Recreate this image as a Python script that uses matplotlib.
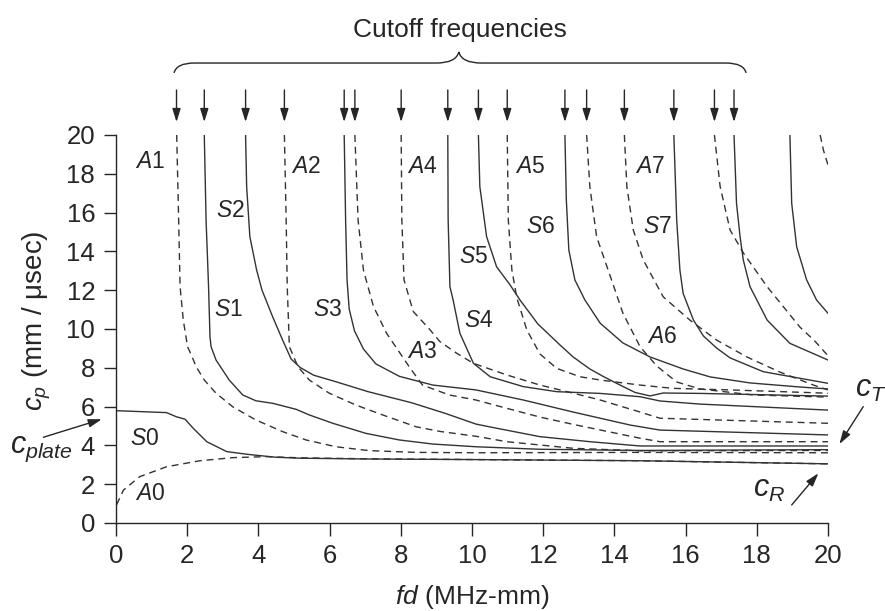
import matplotlib
matplotlib.use('Agg')
import matplotlib.pyplot as plt
from matplotlib.path import Path
from matplotlib.patches import PathPatch

plt.rcParams['font.family'] = ['Liberation Sans', 'DejaVu Sans']
plt.rcParams['mathtext.fontset'] = 'custom'
plt.rcParams['mathtext.rm'] = 'Liberation Sans'
plt.rcParams['mathtext.it'] = 'Liberation Sans:italic'
plt.rcParams['mathtext.bf'] = 'Liberation Sans:bold'

# ---------------- data (fd in MHz-mm, cp in mm/usec) ----------------
cutoff_fd = [1.70, 2.48, 3.64, 4.73, 6.41, 6.71, 8.01, 9.32, 10.18, 10.99,
             12.61, 13.22, 14.28, 15.67, 16.81, 17.36]

# symmetric modes (solid)
s0_fd = [0.0, 1.42, 1.69, 1.94, 2.17, 2.55, 3.11, 3.74, 4.49, 5.17, 7.0, 10.0, 14.7, 20.0]
s0_cp = [5.79, 5.69, 5.48, 5.35, 4.88, 4.19, 3.68, 3.53, 3.39, 3.34, 3.30, 3.27, 3.21, 3.05]

s1_fd = [2.48, 2.53, 2.60, 2.64, 2.67, 2.81, 3.18, 3.56, 3.93, 4.40, 5.06, 5.43, 6.09,
         7.02, 7.96, 8.90, 10.11, 11.91, 14.72, 20.0]
s1_cp = [20.0, 15.62, 12.18, 9.60, 9.09, 8.40, 7.37, 6.60, 6.30, 6.17, 5.86, 5.57, 5.14,
         4.62, 4.28, 4.07, 3.93, 3.80, 3.74, 3.78]

s2_fd = [3.64, 3.67, 3.76, 3.95, 4.10, 4.40, 4.68, 4.92, 5.17, 5.55, 6.18, 7.08, 8.30,
         9.25, 10.11, 10.51, 11.91, 13.32, 14.72, 20.0]
s2_cp = [20.0, 17.34, 14.76, 13.04, 12.01, 10.63, 9.43, 8.45, 8.02, 7.62, 7.28, 6.77, 6.20,
         5.65, 5.10, 4.95, 4.45, 4.19, 3.97, 3.97]

s3_fd = [6.41, 6.45, 6.49, 6.55, 6.70, 6.95, 7.30, 7.96, 8.90, 10.11, 11.44, 12.84, 14.44, 15.28, 20.0]
s3_cp = [20.0, 15.62, 12.53, 11.03, 9.90, 8.97, 8.20, 7.56, 7.11, 6.86, 6.34, 5.72, 5.05, 4.79, 4.54]

s4_fd = [9.32, 9.33, 9.38, 9.47, 9.66, 10.04, 10.51, 11.44, 12.38, 13.60, 14.72, 15.28, 16.40, 20.0]
s4_cp = [20.0, 15.62, 12.18, 11.49, 9.78, 8.23, 7.54, 7.03, 6.77, 6.68, 6.51, 6.29, 6.13, 5.82]

s5_fd = [10.18, 10.22, 10.41, 10.69, 11.07, 11.35, 11.85, 12.47, 12.84, 13.31, 13.71, 14.16,
         14.58, 15.0, 15.37, 16.40, 20.0]
s5_cp = [20.0, 17.34, 14.76, 13.21, 12.27, 11.49, 10.26, 9.18, 8.56, 7.94, 7.53, 7.11,
         6.73, 6.55, 6.70, 6.68, 6.54]

s6_fd = [12.61, 12.65, 12.72, 12.89, 13.17, 13.60, 14.24, 15.0, 15.93, 16.69, 17.81, 19.21, 20.0]
s6_cp = [20.0, 16.65, 14.07, 12.53, 11.50, 10.30, 9.28, 8.56, 7.94, 7.53, 7.22, 7.01, 6.91]

s7_fd = [15.67, 15.75, 15.84, 15.93, 16.22, 16.50, 16.87, 17.25, 18.18, 20.0]
s7_cp = [20.0, 15.62, 13.04, 11.84, 10.46, 9.64, 9.02, 8.51, 7.80, 7.20]

s8_fd = [17.36, 17.43, 17.53, 17.62, 17.81, 18.29, 18.93, 20.0]
s8_cp = [20.0, 16.48, 14.76, 13.56, 12.18, 10.46, 9.26, 8.40]

s9_fd = [18.93, 18.98, 19.12, 19.40, 19.68, 20.0]
s9_cp = [20.0, 16.48, 14.24, 12.53, 11.49, 10.81]

# antisymmetric modes (dashed)
a0_fd = [0.02, 0.21, 0.67, 1.42, 2.36, 3.29, 4.23, 5.17, 7.0, 10.0, 14.7, 20.0]
a0_cp = [0.95, 1.70, 2.39, 2.90, 3.21, 3.37, 3.42, 3.36, 3.31, 3.27, 3.21, 3.05]

a1_fd = [1.705, 1.76, 1.80, 1.89, 2.01, 2.13, 2.25, 2.48, 2.81, 3.28, 3.93, 4.68, 5.34,
         6.18, 7.11, 8.43, 10.11, 14.72, 20.0]
a1_cp = [20.0, 15.62, 12.18, 10.46, 9.09, 8.60, 8.06, 7.37, 6.69, 5.99, 5.31, 4.71, 4.28,
         3.93, 3.73, 3.64, 3.62, 3.64, 3.62]

a2_fd = [4.73, 4.78, 4.81, 4.87, 5.11, 5.43, 5.99, 6.74, 7.49, 8.43, 9.10, 10.11, 10.98,
         12.85, 14.72, 20.0]
a2_cp = [20.0, 15.62, 12.18, 9.09, 8.06, 7.37, 6.69, 6.08, 5.57, 4.96, 4.72, 4.47, 4.19,
         3.85, 3.72, 3.74]

a3_fd = [6.71, 6.80, 6.95, 7.23, 7.60, 7.98, 8.26, 8.61, 9.36, 10.11, 10.98, 11.91, 12.85,
         14.72, 15.28, 20.0]
a3_cp = [20.0, 15.62, 13.04, 11.17, 9.78, 8.75, 7.99, 7.11, 6.60, 6.34, 5.91, 5.46, 5.08,
         4.37, 4.19, 4.19]

a4_fd = [8.01, 8.03, 8.09, 8.35, 8.80, 9.10, 9.57, 10.04, 10.98, 11.91, 12.85, 13.60, 14.72, 15.28, 20.0]
a4_cp = [20.0, 15.62, 12.53, 10.90, 10.00, 9.35, 8.75, 8.23, 7.63, 7.11, 6.69, 6.34, 5.72, 5.40, 5.14]

a5_fd = [10.99, 11.02, 11.12, 11.26, 11.54, 11.91, 12.38, 13.03, 13.60, 14.72, 15.65, 17.25, 20.0]
a5_cp = [20.0, 15.62, 13.04, 11.60, 9.95, 8.71, 7.97, 7.54, 7.37, 7.11, 6.94, 6.86, 6.69]

a6_fd = [13.22, 13.31, 13.50, 13.92, 14.24, 14.72, 15.19, 15.75, 16.40, 17.90, 20.0]
a6_cp = [20.0, 17.34, 14.76, 12.53, 10.81, 9.09, 8.09, 7.27, 6.91, 6.60, 6.49]

a7_fd = [14.28, 14.35, 14.53, 14.81, 15.37, 16.12, 16.87, 17.72, 18.65, 19.59, 20.0]
a7_cp = [20.0, 17.34, 15.10, 13.56, 11.66, 10.46, 9.43, 8.56, 7.78, 7.11, 6.86]

a8_fd = [16.81, 16.97, 17.25, 17.63, 18.29, 19.21, 19.63, 20.0]
a8_cp = [20.0, 17.34, 15.10, 13.90, 12.18, 10.10, 9.38, 8.62]

a9_fd = [19.78, 19.87, 20.0]
a9_cp = [20.0, 19.23, 18.45]

label_text = ['A1', 'S2', 'A2', 'A4', 'A5', 'A7', 'S6', 'S7', 'S5', 'S1', 'S3', 'S4',
              'A3', 'A6', 'S0', 'A0']
label_fd = [0.95, 3.20, 5.34, 8.59, 11.63, 15.00, 11.93, 15.20, 10.04, 3.15, 5.95, 10.18,
            8.59, 15.33, 0.81, 0.96]
label_cp = [18.62, 16.13, 18.40, 18.40, 18.40, 18.40, 15.27, 15.27, 13.73, 10.98, 10.98, 10.46,
            8.83, 9.60, 4.37, 1.53]

xticks = [0, 2, 4, 6, 8, 10, 12, 14, 16, 18, 20]
yticks = [0, 2, 4, 6, 8, 10, 12, 14, 16, 18, 20]

# ---------------- figure ----------------
INK = '#262626'
LINE = '#333333'
fig = plt.figure(figsize=(8.85, 6.11), dpi=100)
ax = fig.add_axes([116 / 885, 88 / 611, 712 / 885, 388 / 611])

sym = [(s0_fd, s0_cp), (s1_fd, s1_cp), (s2_fd, s2_cp), (s3_fd, s3_cp), (s4_fd, s4_cp),
       (s5_fd, s5_cp), (s6_fd, s6_cp), (s7_fd, s7_cp), (s8_fd, s8_cp), (s9_fd, s9_cp)]
anti = [(a0_fd, a0_cp), (a1_fd, a1_cp), (a2_fd, a2_cp), (a3_fd, a3_cp), (a4_fd, a4_cp),
        (a5_fd, a5_cp), (a6_fd, a6_cp), (a7_fd, a7_cp), (a8_fd, a8_cp), (a9_fd, a9_cp)]

for fx, cy in sym:
    ax.plot(fx, cy, color=LINE, lw=1.0, solid_joinstyle='round')
for fx, cy in anti:
    ax.plot(fx, cy, color=LINE, lw=1.0, linestyle=(0, (5, 3.5)))

for t, fx, cy in zip(label_text, label_fd, label_cp):
    ax.text(fx, cy, '$%s$%s' % (t[0], t[1:]), fontsize=16.5, color=INK,
            ha='center', va='center')

ax.set_xlim(0, 20)
ax.set_ylim(0, 20)
ax.set_xticks(xticks)
ax.set_yticks(yticks)
ax.spines['top'].set_visible(False)
ax.spines['right'].set_visible(False)
for sp in ('left', 'bottom'):
    ax.spines[sp].set_linewidth(1.0)
    ax.spines[sp].set_color(INK)
ax.tick_params(axis='both', direction='out', length=9, width=1.0, color=INK,
               labelsize=18.5, labelcolor=INK)
ax.tick_params(axis='y', pad=6)
ax.tick_params(axis='x', pad=6)

# axis labels
ax.text(10.0, -4.15, '$fd$ (MHz-mm)', fontsize=19, color=INK, ha='center',
        va='baseline', clip_on=False)
ax.text(-2.22, 10.41, '$c_p$ (mm / \u03bcsec)', fontsize=20, color=INK, rotation=90,
        ha='center', va='center', clip_on=False)

# cutoff arrows
for fx in cutoff_fd:
    ax.annotate('', xy=(fx, 20.67), xytext=(fx, 22.32), xycoords='data',
                annotation_clip=False,
                arrowprops=dict(arrowstyle='-|>,head_length=0.8,head_width=0.25',
                                color=INK, lw=1.0, shrinkA=0, shrinkB=0))

# brace
verts = [(1.63, 23.2), (1.70, 23.71), (2.2, 23.71), (9.0, 23.71), (9.55, 23.71),
         (9.63, 24.28), (9.71, 23.71), (10.26, 23.71), (17.13, 23.71), (17.63, 23.71),
         (17.70, 23.2)]
codes = [Path.MOVETO, Path.CURVE3, Path.CURVE3, Path.LINETO, Path.CURVE3, Path.CURVE3,
         Path.CURVE3, Path.CURVE3, Path.LINETO, Path.CURVE3, Path.CURVE3]
ax.add_patch(PathPatch(Path(verts, codes), fill=False, edgecolor=INK, lw=1.0,
                       clip_on=False))
ax.text(9.66, 25.05, 'Cutoff frequencies', fontsize=19, color=INK, ha='center',
        va='baseline', clip_on=False)

# velocity annotations
arrow_kw = dict(arrowstyle='-|>,head_length=0.8,head_width=0.25', color=INK, lw=1.0,
                shrinkA=0, shrinkB=0)
ax.text(-2.98, 3.61, '$c_{plate}$', fontsize=22, color=INK, ha='left', va='baseline',
        clip_on=False)
ax.annotate('', xy=(-0.40, 5.35), xytext=(-2.04, 4.42), annotation_clip=False,
            arrowprops=arrow_kw)
ax.text(20.76, 6.49, '$c_T$', fontsize=22, color=INK, ha='left', va='baseline',
        clip_on=False)
ax.annotate('', xy=(20.32, 4.07), xytext=(20.99, 6.0), annotation_clip=False,
            arrowprops=arrow_kw)
ax.text(17.89, 1.34, '$c_R$', fontsize=22, color=INK, ha='left', va='baseline',
        clip_on=False)
ax.annotate('', xy=(19.73, 2.56), xytext=(18.98, 0.93), annotation_clip=False,
            arrowprops=arrow_kw)

fig.savefig('out.png', dpi=100)
